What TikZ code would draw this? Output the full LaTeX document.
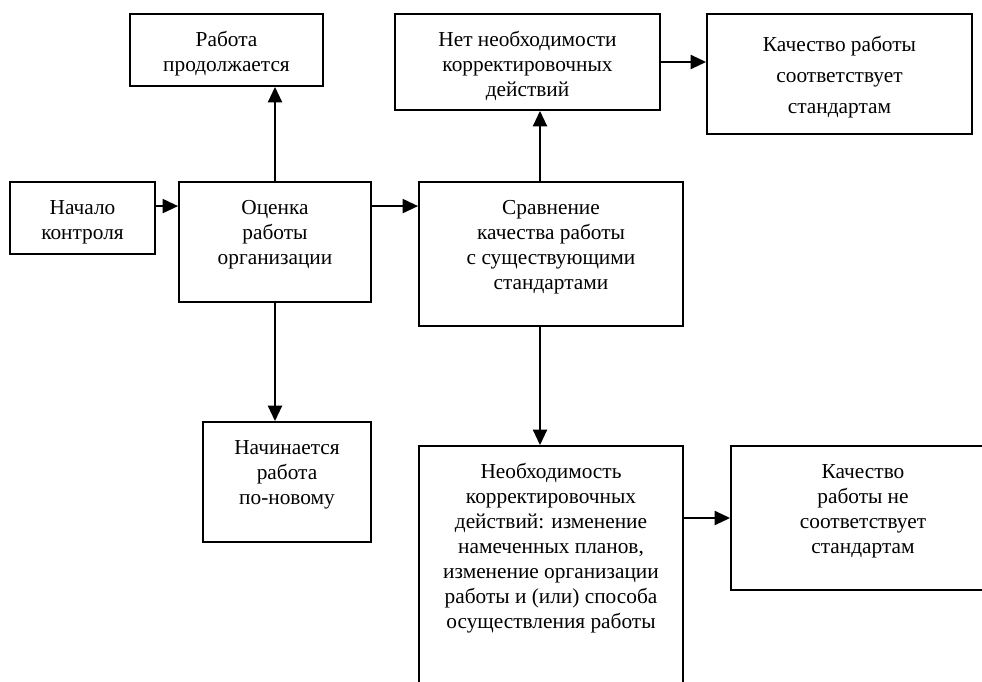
\documentclass[tikz,border=0pt]{standalone}
\usepackage{fontspec}
\setmainfont{Liberation Serif}
\usetikzlibrary{arrows.meta}
\tikzset{edge/.style = {->,> = {Triangle[length=11.5pt,width=10.5pt]}}}
\tikzset{txt/.style = {anchor=north,align=center,inner sep=0pt,font=\fontsize{16}{18.75}\selectfont}}

\begin{document}
\begin{tikzpicture}[x=0.75pt,y=-0.75pt]
			\path [use as bounding box, clip] (0,0) rectangle (982,682);
			\begin{scope}[every node/.style={rectangle,draw,line width=1.4pt,inner sep=0pt}]
			    \node [minimum width=144.75pt, minimum height=54pt] (rabota) at (226.5,50) {};
			    \node [minimum width=108.75pt, minimum height=54pt] (nachalo) at (82.5,218) {};
			    \node [minimum width=144pt, minimum height=90pt] (ocenka) at (275,242) {};
			    \node [minimum width=126pt, minimum height=90pt] (nachin) at (287,482) {};
			    \node [minimum width=198pt, minimum height=108pt] (sravn) at (551,254) {};
			    \node [minimum width=198.75pt, minimum height=72pt] (net) at (527.5,62) {};
			    \node [minimum width=198.75pt, minimum height=90pt] (kach) at (839.5,74) {};
			    \node [minimum width=198pt, minimum height=198pt] (neobh) at (551,578) {};
			    \node [minimum width=198pt, minimum height=108pt] (nekach) at (863,518) {};
			\end{scope}
			\begin{scope}[every node/.style={txt}]
			    \node (rabota-t) at (226.5,31) {Работа\\продолжается};
			    \node (nachalo-t) at (82.5,200) {Начало\\контроля};
			    \node (ocenka-t) at (275,200) {Оценка\\работы\\организации};
			    \node (nachin-t) at (287,440) {Начинается\\работа\\по-новому};
			    \node (sravn-t) at (551,200) {Сравнение\\качества работы\\с существующими\\стандартами};
			    \node (net-t) at (527.5,31) {Нет необходимости\\корректировочных\\действий};
			    \node [font=\fontsize{16}{23.25}\selectfont] (kach-t) at (839.5,36) {Качество работы\\соответствует\\стандартам};
			    \node (neobh-t) at (551,463) {Необходимость\\корректировочных\\действий: изменение\\намеченных планов,\\изменение организации\\работы и (или) способа\\осуществления работы};
			    \node (nekach-t) at (863,464) {Качество\\работы не\\соответствует\\стандартам};
			\end{scope}
			\begin{scope}[every edge/.style={draw=black,line width=1.4pt,edge}]
			    \path [->] ([yshift=-18.75pt]nachalo.north east) edge ([yshift=-18.75pt]nachalo.north east -| ocenka.west);
			    \path [->] ([yshift=-18.75pt]ocenka.north east) edge ([yshift=-18.75pt]ocenka.north east -| sravn.west);
			    \path [->] (ocenka.north) edge (ocenka.north |- rabota.south);
			    \path [->] (ocenka.south) edge (ocenka.south |- nachin.north);
			    \path [->] ([xshift=-8.25pt]sravn.north) edge ([xshift=-8.25pt]sravn.north |- net.south);
			    \path [->] ([xshift=-8.25pt]sravn.south) edge ([xshift=-8.25pt]sravn.south |- neobh.north);
			    \path [->] (net.east) edge (net.east -| kach.west);
			    \path [->] (nekach.west -| neobh.east) edge (nekach.west);
			\end{scope}
		\end{tikzpicture}
\end{document}
